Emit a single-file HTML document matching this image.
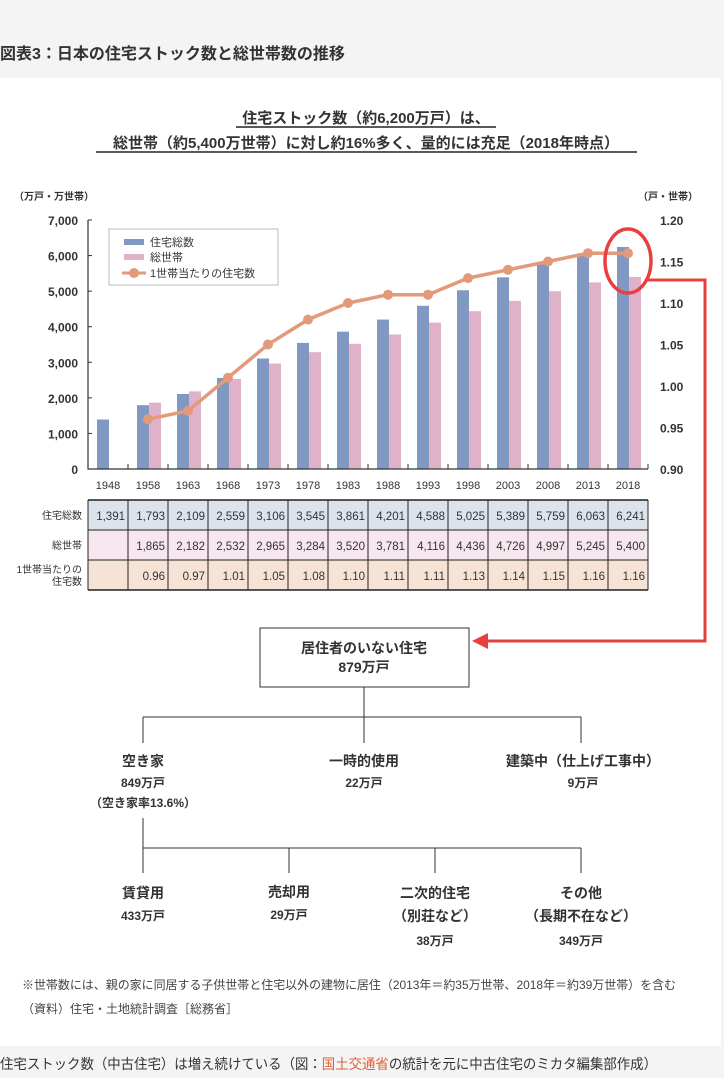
<!DOCTYPE html>
<html><head><meta charset="utf-8">
<style>
body{margin:0;width:724px;height:1078px;background:#f4f4f4;font-family:"Liberation Sans","Noto Sans CJK JP",sans-serif;color:#333;position:relative;overflow:hidden}
.t{position:absolute;white-space:nowrap}
svg text{font-family:"Liberation Sans","Noto Sans CJK JP",sans-serif}
</style></head><body>
<div class="t" style="left:0;top:40px;font-size:16px;font-weight:bold;color:#333">図表3：日本の住宅ストック数と総世帯数の推移</div>
<div style="position:absolute;left:0;top:78px;width:721px;height:968px;background:#fff"></div>
<svg id="chart" width="724" height="1078" style="position:absolute;left:0;top:0">
<text x="366" y="123" text-anchor="middle" font-size="15" font-weight="bold" fill="#333">住宅ストック数（約6,200万戸）は、</text>
<line x1="236" y1="127" x2="496" y2="127" stroke="#222" stroke-width="1.5"/>
<text x="366" y="148" text-anchor="middle" font-size="15" font-weight="bold" fill="#333">総世帯（約5,400万世帯）に対し約16%多く、量的には充足（2018年時点）</text>
<line x1="96" y1="152" x2="637" y2="152" stroke="#222" stroke-width="1.5"/>
<text x="14" y="200" font-size="10" font-weight="bold" fill="#333">（万戸・万世帯）</text>
<text x="698" y="200" text-anchor="end" font-size="10" font-weight="bold" fill="#333">（戸・世帯）</text>
<g id="g"></g>
<rect x="109" y="229" width="169" height="56" fill="#fff" stroke="#bbb"/>
<rect x="124" y="239" width="20" height="6" fill="#8198c2"/>
<text x="150" y="246" font-size="11" fill="#333">住宅総数</text>
<rect x="124" y="254" width="20" height="6" fill="#dfb2ca"/>
<text x="150" y="261" font-size="11" fill="#333">総世帯</text>
<line x1="122" y1="273" x2="146" y2="273" stroke="#e29a7a" stroke-width="3"/>
<circle cx="134" cy="273" r="5" fill="#e29a7a"/>
<text x="150" y="277" font-size="11" fill="#333">1世帯当たりの住宅数</text>
<ellipse cx="628" cy="261" rx="23" ry="32" fill="none" stroke="#e8403f" stroke-width="3.5"/>
<polyline points="648,280 705,280 705,641 485,641" fill="none" stroke="#e8403f" stroke-width="3"/>
<polygon points="472,641 488,633 488,649" fill="#e8403f"/>
<rect x="260" y="628" width="209" height="59" fill="#fff" stroke="#333"/>
<text x="364" y="653" text-anchor="middle" font-size="14" font-weight="bold" fill="#333">居住者のいない住宅</text>
<text x="364" y="672" text-anchor="middle" font-size="14" font-weight="bold" fill="#333">879万戸</text>
<g stroke="#333" stroke-width="1" fill="none">
<line x1="364" y1="687" x2="364" y2="743"/><line x1="143" y1="717" x2="581" y2="717"/>
<line x1="143" y1="717" x2="143" y2="743"/><line x1="581" y1="717" x2="581" y2="743"/>
<line x1="143" y1="818" x2="143" y2="873"/><line x1="143" y1="848" x2="581" y2="848"/>
<line x1="289" y1="848" x2="289" y2="873"/><line x1="435" y1="848" x2="435" y2="873"/><line x1="581" y1="848" x2="581" y2="873"/>
</g>
<g font-size="14" font-weight="bold" fill="#333" text-anchor="middle">
<text x="143" y="766">空き家</text>
<text x="143" y="787" font-size="12">849万戸</text>
<text x="143" y="807" font-size="12">（空き家率13.6%）</text>
<text x="364" y="766">一時的使用</text>
<text x="364" y="787" font-size="12">22万戸</text>
<text x="583" y="766">建築中（仕上げ工事中）</text>
<text x="583" y="787" font-size="12">9万戸</text>
<text x="143" y="898">賃貸用</text>
<text x="143" y="920" font-size="12">433万戸</text>
<text x="289" y="897">売却用</text>
<text x="289" y="919" font-size="12">29万戸</text>
<text x="435" y="898">二次的住宅</text>
<text x="435" y="921">（別荘など）</text>
<text x="435" y="945" font-size="12">38万戸</text>
<text x="581" y="898">その他</text>
<text x="581" y="921">（長期不在など）</text>
<text x="581" y="945" font-size="12">349万戸</text>
</g>
<text x="22" y="989" font-size="12" fill="#444" textLength="654" lengthAdjust="spacingAndGlyphs">※世帯数には、親の家に同居する子供世帯と住宅以外の建物に居住（2013年＝約35万世帯、2018年＝約39万世帯）を含む</text>
<text x="22" y="1013" font-size="12" fill="#444">（資料）住宅・土地統計調査［総務省］</text>
<text x="0" y="1069" font-size="14" fill="#333" textLength="657" lengthAdjust="spacingAndGlyphs">住宅ストック数（中古住宅）は増え続けている（図：<tspan fill="#e0603a">国土交通省</tspan>の統計を元に中古住宅のミカタ編集部作成）</text>
</svg>
<script>
const years=["1948","1958","1963","1968","1973","1978","1983","1988","1993","1998","2003","2008","2013","2018"];
const housing=[1391,1793,2109,2559,3106,3545,3861,4201,4588,5025,5389,5759,6063,6241];
const households=[null,1865,2182,2532,2965,3284,3520,3781,4116,4436,4726,4997,5245,5400];
const ratio=[null,0.96,0.97,1.01,1.05,1.08,1.10,1.11,1.11,1.13,1.14,1.15,1.16,1.16];
const leftTicks=[0,1000,2000,3000,4000,5000,6000,7000];
const rightTicks=[0.90,0.95,1.00,1.05,1.10,1.15,1.20];
const NS="http://www.w3.org/2000/svg";
const g=document.getElementById('g');
const X0=88,BW=40,YB=469,YT=220;
const yL=v=>YB-(v/7000)*(YB-YT);
const yR=v=>YB-((v-0.9)/0.3)*(YB-YT);
const xB=i=>X0+i*BW;
function mk(t,a,txt){const e=document.createElementNS(NS,t);for(const k in a)e.setAttribute(k,a[k]);if(txt!=null)e.textContent=txt;g.appendChild(e);return e;}
leftTicks.forEach(v=>{const t=mk('text',{x:78,y:yL(v)+5,'text-anchor':'end','font-size':12,'font-weight':'bold',fill:'#333'},v.toLocaleString('en-US'));


mk('line',{x1:X0,y1:yL(v),x2:X0+4,y2:yL(v),stroke:'#333'});});
rightTicks.forEach(v=>{const t=mk('text',{x:660,y:yR(v)+5,'font-size':12,'font-weight':'bold',fill:'#333'},v.toFixed(2));

});
years.forEach((y,i)=>{
const b=mk('rect',{x:xB(i)+9,y:yL(housing[i]),width:12,height:YB-yL(housing[i]),fill:'#8198c2'});


if(households[i]!=null){const p=mk('rect',{x:xB(i)+21,y:yL(households[i]),width:12,height:YB-yL(households[i]),fill:'#dfb2ca'});

}
const t=mk('text',{x:xB(i)+20,y:489,'text-anchor':'middle','font-size':11,fill:'#333'},y);


mk('line',{x1:xB(i+1),y1:YB,x2:xB(i+1),y2:YB-5,stroke:'#333'});
});
mk('polyline',{points:`${X0},${YT} ${X0},${YB} ${X0+560},${YB}`,fill:'none',stroke:'#333','stroke-width':1.2});
const pts=[];ratio.forEach((r,i)=>{if(r!=null)pts.push((xB(i)+20)+','+yR(r));});
const ln=mk('polyline',{points:pts.join(' '),fill:'none',stroke:'#e29a7a','stroke-width':3.5});


ratio.forEach((r,i)=>{if(r==null)return;const c=mk('circle',{cx:xB(i)+20,cy:yR(r),r:5,fill:'#e29a7a'});

});
const rows=[{lab:['住宅総数'],vals:housing,fill:'#dde3ec',f:v=>v.toLocaleString('en-US')},
{lab:['総世帯'],vals:households,fill:'#f6e7ef',f:v=>v.toLocaleString('en-US')},
{lab:['1世帯当たりの','住宅数'],vals:ratio,fill:'#f7e2d6',f:v=>v.toFixed(2)}];
rows.forEach((r,ri)=>{const y0=500+ri*30;
mk('rect',{x:X0,y:y0,width:560,height:30,fill:r.fill});
if(r.lab.length==1){const t=mk('text',{x:82,y:y0+19,'text-anchor':'end','font-size':10,fill:'#333'},r.lab[0]);

}
else{r.lab.forEach((l,k)=>{const t=mk('text',{x:82,y:y0+13+k*12,'text-anchor':'end','font-size':10,fill:'#333'},l);

});}
r.vals.forEach((v,i)=>{if(v==null)return;const t=mk('text',{x:xB(i)+37,y:y0+20,'text-anchor':'end','font-size':11.5,fill:'#333'},r.f(v));

});
});
for(let i=0;i<=14;i++)mk('line',{x1:xB(i),y1:500,x2:xB(i),y2:590,stroke:'#222','stroke-width':1});
for(let k=0;k<=3;k++)mk('line',{x1:X0,y1:500+k*30,x2:X0+560,y2:500+k*30,stroke:'#222','stroke-width':k%3==0?1.5:1});
</script>
</body></html>
